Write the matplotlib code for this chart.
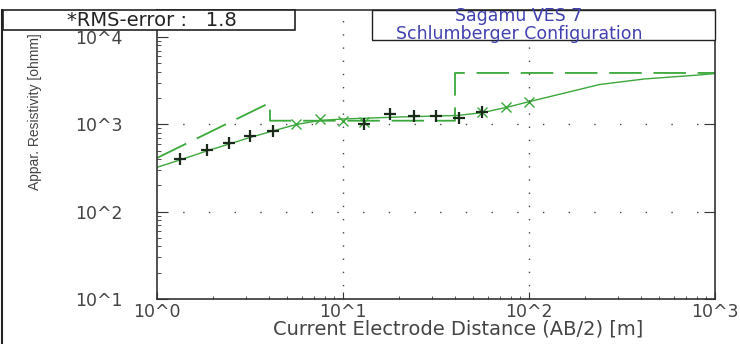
import math
import matplotlib
matplotlib.use("Agg")
import matplotlib.pyplot as plt
from matplotlib.patches import Rectangle
from matplotlib.lines import Line2D
from matplotlib.ticker import LogLocator, FuncFormatter, NullFormatter

# field data (AB/2 in m, apparent resistivity in ohm.m)
ab2_obs = [1.33, 1.85, 2.45, 3.16, 4.2, 13.0, 18.0, 24.0, 31.6, 42.0, 56.0]
rho_obs = [398, 505, 607, 741, 846, 1010, 1312, 1245, 1245, 1172, 1396]

# computed values at the sounding points
ab2_calc = [5.6, 7.5, 10.0, 13.0, 56.0, 75.0, 100.0]
rho_calc = [1000, 1142, 1101, 1055, 1396, 1593, 1816]

# model response curve
ab2_curve = [1.0, 1.33, 1.85, 2.45, 3.16, 4.2, 5.6, 7.5, 10.0, 20.0, 41.0,
             56.0, 76.0, 100.0, 240.0, 416.0, 822.0, 1000.0]
rho_curve = [322, 391, 495, 596, 707, 839, 995, 1107, 1151, 1213, 1262,
             1359, 1567, 1816, 2858, 3304, 3673, 3820]

# layered model
model_depth = [1.0, 4.05, 4.05, 40.0, 40.0, 1000.0]
model_rho = [412, 1770, 1100, 1100, 3875, 3875]

W, H = 740, 344
fig = plt.figure(figsize=(W / 100, H / 100), dpi=100)
ax = fig.add_axes([157 / W, 1 - 299 / H, (715 - 157) / W, (299 - 10) / H])

green = "#3aa83a"
ax.plot(model_depth, model_rho, color=green, lw=1.3, dashes=(18, 6.5))
ax.plot(ab2_curve, rho_curve, color=green, lw=1.0)
ax.plot(ab2_calc, rho_calc, ls="none", marker="x", ms=6.5, mew=1.0, color=green)
ax.plot(ab2_obs, rho_obs, ls="none", marker="+", ms=8, mew=1.6, color="#1a2a1a")

ax.set_xscale("log")
ax.set_yscale("log")
ax.set_xlim(1, 1000)
ax.set_ylim(10, 10 ** 4.309)

fmt = FuncFormatter(lambda v, p: "10^%d" % round(math.log10(v)))
ax.xaxis.set_major_locator(LogLocator(base=10))
ax.yaxis.set_major_locator(LogLocator(base=10))
ax.xaxis.set_minor_locator(LogLocator(base=10, subs=range(2, 10)))
ax.yaxis.set_minor_locator(LogLocator(base=10, subs=range(2, 10)))
ax.xaxis.set_major_formatter(fmt)
ax.yaxis.set_major_formatter(fmt)
ax.xaxis.set_minor_formatter(NullFormatter())
ax.yaxis.set_minor_formatter(NullFormatter())

ax.tick_params(axis="both", which="both", direction="in", colors="#333333",
               labelcolor="#444444", labelsize=12.5)
ax.tick_params(axis="y", which="major", length=8, left=True, right=True, pad=25)
ax.tick_params(axis="y", which="minor", length=3, left=True, right=False)
ax.tick_params(axis="x", which="major", length=5, pad=3)
ax.tick_params(axis="x", which="minor", length=2.5)

for s in ax.spines.values():
    s.set_color("#333333")
    s.set_linewidth(1.2)

# dotted decade grid
for xv in [10, 100]:
    ax.axvline(xv, color="#444444", lw=1.0, dashes=(1, 8.5))
for yv in [100, 1000]:
    ax.axhline(yv, color="#444444", lw=1.0, dashes=(1, 17.5))

fig.text(458 / W, 1 - 329 / H, "Current Electrode Distance (AB/2) [m]",
         ha="center", va="center", fontsize=14, color="#444444")
fig.text(35 / W, 1 - 112 / H, "Appar. Resistivity [ohmm]", rotation=90,
         ha="center", va="center", fontsize=10,
         family=["Liberation Sans Narrow", "Liberation Sans"], color="#444444")

# RMS box
fig.patches.append(Rectangle((3 / W, 1 - 30 / H), 292 / W, 20 / H,
                             transform=fig.transFigure, fill=True,
                             facecolor="white", edgecolor="#222222", lw=1.2))
fig.text(152 / W, 1 - 20 / H, "*RMS-error :   1.8", ha="center", va="center",
         fontsize=14, color="#222222")

# title box
fig.patches.append(Rectangle((372 / W, 1 - 40 / H), 343 / W, 30 / H,
                             transform=fig.transFigure, fill=True,
                             facecolor="white", edgecolor="#222222", lw=1.0))
fig.text(519 / W, 1 - 25 / H, "Sagamu VES 7\nSchlumberger Configuration",
         ha="center", va="center", multialignment="center", linespacing=0.95,
         fontsize=12.5, color="#4040b0")

# left border
fig.lines.append(Line2D([1.5 / W, 1.5 / W], [0, 1 - 10 / H],
                        transform=fig.transFigure, color="#222222", lw=1.5))

fig.savefig("out.png", dpi=100)
